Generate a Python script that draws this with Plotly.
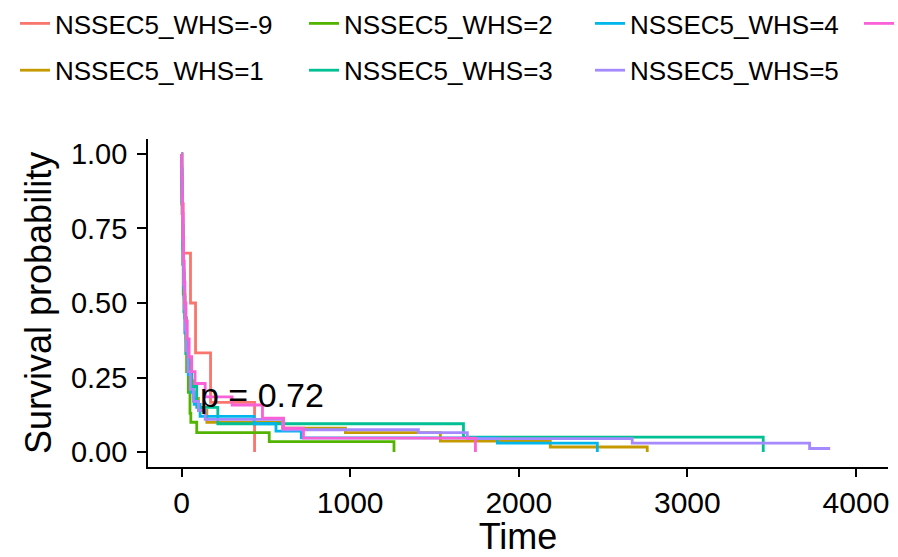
import plotly.graph_objects as go

FONT = "Liberation Sans, Arial, sans-serif"

groups = ["NSSEC5_WHS=-9", "NSSEC5_WHS=1", "NSSEC5_WHS=2", "NSSEC5_WHS=3",
          "NSSEC5_WHS=4", "NSSEC5_WHS=5", "NSSEC5_WHS=6"]
colors = ["#F8766D", "#C49A00", "#53B400", "#00C094", "#00B6EB", "#A58AFF", "#FB61D7"]

# event times and survival after each event (Kaplan-Meier steps)
t_m9 = [0, 2, 10, 53, 83, 172, 433]
s_m9 = [1.0, 0.833, 0.667, 0.5, 0.333, 0.167, 0.0]

t_1 = [0, 1, 2, 4, 6, 8, 11, 15, 20, 27, 36, 50, 70, 100, 150, 600, 972, 1535, 2187, 2762]
s_1 = [1.0, 0.95, 0.89, 0.83, 0.76, 0.69, 0.61, 0.53, 0.45, 0.38, 0.31, 0.24, 0.18, 0.14, 0.1, 0.08, 0.065, 0.037, 0.017, 0.0]

t_2 = [0, 1, 2, 3, 5, 7, 10, 14, 20, 25, 30, 40, 50, 55, 90, 520, 1260]
s_2 = [1.0, 0.93, 0.87, 0.8, 0.73, 0.63, 0.53, 0.47, 0.4, 0.33, 0.27, 0.2, 0.13, 0.1, 0.065, 0.035, 0.0]

t_3 = [0, 1, 2, 4, 6, 8, 11, 15, 20, 28, 40, 60, 90, 215, 1672, 3450]
s_3 = [1.0, 0.95, 0.9, 0.83, 0.76, 0.68, 0.6, 0.52, 0.45, 0.37, 0.3, 0.22, 0.15, 0.095, 0.05, 0.0]

t_4 = [0, 1, 2, 3, 5, 7, 10, 13, 17, 22, 30, 40, 55, 75, 110, 430, 560, 710, 1873, 2466]
s_4 = [1.0, 0.95, 0.9, 0.84, 0.78, 0.71, 0.63, 0.55, 0.47, 0.4, 0.33, 0.26, 0.2, 0.16, 0.12, 0.095, 0.07, 0.048, 0.03, 0.0]

t_5 = [0, 1, 2, 3, 5, 7, 9, 12, 16, 21, 28, 38, 52, 70, 100, 140, 600, 1405, 1695, 2673, 3725, 3847]
s_5 = [1.0, 0.95, 0.9, 0.85, 0.78, 0.71, 0.64, 0.56, 0.48, 0.41, 0.34, 0.27, 0.21, 0.17, 0.14, 0.11, 0.075, 0.065, 0.045, 0.03, 0.012, 0.012]

t_6 = [0, 1, 2, 4, 6, 9, 12, 16, 20, 26, 34, 45, 60, 80, 140, 300, 480, 605, 723, 1743]
s_6 = [1.0, 0.96, 0.92, 0.86, 0.8, 0.72, 0.64, 0.57, 0.5, 0.44, 0.38, 0.32, 0.27, 0.23, 0.185, 0.158, 0.114, 0.08, 0.047, 0.0]

times = [t_m9, t_1, t_2, t_3, t_4, t_5, t_6]
survs = [s_m9, s_1, s_2, s_3, s_4, s_5, s_6]
legend_ids = ["legend", "legend", "legend2", "legend2", "legend3", "legend3", "legend4"]

x_ticks = [0, 1000, 2000, 3000, 4000]
y_ticks = [0, 0.25, 0.5, 0.75, 1.0]
pval_text = "p = 0.72"
x_title = "Time"
y_title = "Survival probability"

fig = go.Figure()
for name, col, t, s, lg in zip(groups, colors, times, survs, legend_ids):
    fig.add_trace(go.Scatter(
        x=t, y=s, mode="lines", name=name, legend=lg, legendgroup=name,
        line=dict(color=col, width=2.8, shape="hv"),
    ))

fig.add_annotation(x=100, y=0.19, xref="x", yref="y", text=pval_text,
                   showarrow=False, xanchor="left", yanchor="middle",
                   font=dict(family=FONT, size=34, color="black"))

# y-axis title (rotated), placed left of the tick labels
fig.add_annotation(x=(38 - 148) / 740, y=0.5, xref="paper", yref="paper",
                   text=y_title, textangle=-90, showarrow=False,
                   xanchor="center", yanchor="middle",
                   font=dict(family=FONT, size=36, color="black"))

leg_common = dict(orientation="v", xref="container", yref="container",
                  yanchor="top", xanchor="left", traceorder="grouped",
                  tracegroupgap=10, bgcolor="rgba(0,0,0,0)",
                  font=dict(family=FONT, size=26, color="black"))
leg_y = 1.0 + 3 / 557

fig.update_layout(
    width=898, height=557,
    margin=dict(l=148, r=10, t=139, b=90, autoexpand=False),
    plot_bgcolor="white", paper_bgcolor="white",
    font=dict(family=FONT, color="black"),
    showlegend=True,
    legend=dict(x=15 / 898, y=leg_y, **leg_common),
    legend2=dict(x=304 / 898, y=leg_y, **leg_common),
    legend3=dict(x=590 / 898, y=leg_y, **leg_common),
    legend4=dict(x=859 / 898, y=leg_y, **leg_common),
    xaxis=dict(range=[-199, 4190], tickvals=x_ticks, showgrid=False, zeroline=False,
               showline=True, linecolor="black", linewidth=1.6,
               ticks="outside", ticklen=8, tickwidth=1.6, tickcolor="black",
               tickfont=dict(family=FONT, size=30, color="black"),
               title=dict(text=x_title, font=dict(family=FONT, size=36, color="black"), standoff=6)),
    yaxis=dict(range=[-0.05, 1.05], tickvals=y_ticks, tickformat=".2f",
               showgrid=False, zeroline=False,
               showline=True, linecolor="black", linewidth=1.6,
               ticks="outside", ticklen=9, tickwidth=1.6, tickcolor="black",
               ticklabelstandoff=4,
               tickfont=dict(family=FONT, size=29, color="black")),
)

fig.write_html("out.html")
